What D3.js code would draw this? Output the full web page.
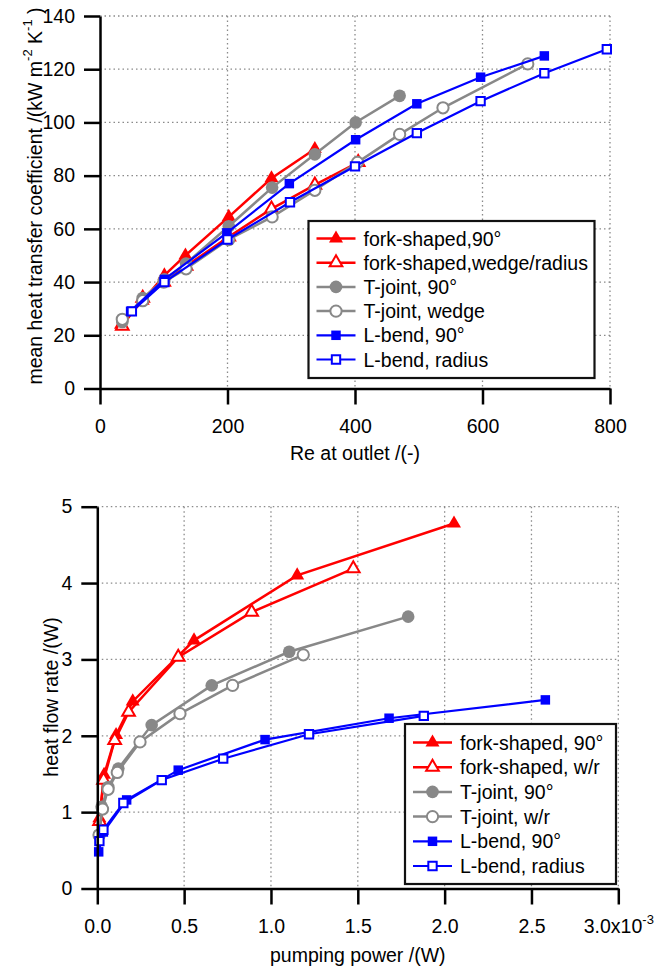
<!DOCTYPE html>
<html>
<head>
<meta charset="utf-8">
<script src="https://cdn.jsdelivr.net/npm/d3@7"></script>
<style>
  body { margin: 0; background: #fff; }
</style>
</head>
<body>
<div id="chart"></div>
<script>
var svgWidth = 658, svgHeight = 971;
var fontFamily = '"Liberation Sans", Arial, Helvetica, sans-serif';

// ---- top panel: Re at outlet vs mean heat transfer coefficient ----
var topLegend = ["fork-shaped,90°", "fork-shaped,wedge/radius", "T-joint, 90°", "T-joint, wedge", "L-bend, 90°", "L-bend, radius"];
var reFork90 = [33, 67, 101, 134, 202, 269, 337];
var htcFork90 = [24, 33, 42.5, 50, 64.5, 79, 90];
var reForkWedge = [35, 67, 100, 135, 202, 269, 337, 405];
var htcForkWedge = [23.5, 34, 40, 46, 57, 67.5, 76.5, 85];
var reT90 = [35, 67, 101, 135, 202, 270, 337, 401, 470];
var htcT90 = [25, 34, 41, 47, 61, 75.5, 88, 100, 110];
var reTWedge = [35, 67, 100, 135, 202, 270, 337, 404, 470, 538, 671];
var htcTWedge = [26, 33, 40, 45, 56, 64.5, 74.5, 85, 95.5, 105.5, 122];
var reL90 = [48, 101, 199, 297, 401, 497, 597, 697];
var htcL90 = [29, 41, 58.5, 77, 93.5, 107, 117, 125];
var reLRadius = [50, 101, 200, 298, 400, 497, 597, 697, 795];
var htcLRadius = [29, 40, 56, 70, 83.5, 96, 108, 118.5, 127.5];
var reTicks = [0, 200, 400, 600, 800];
var htcTicks = [0, 20, 40, 60, 80, 100, 120, 140];

// ---- bottom panel: pumping power (x10^-3 W) vs heat flow rate ----
var botLegend = ["fork-shaped, 90°", "fork-shaped, w/r", "T-joint, 90°", "T-joint, w/r", "L-bend, 90°", "L-bend, radius"];
var ppFork90 = [0.012, 0.039, 0.108, 0.204, 0.557, 1.151, 2.054];
var qFork90 = [0.92, 1.49, 2.01, 2.45, 3.25, 4.10, 4.78];
var ppForkWR = [0.013, 0.036, 0.100, 0.180, 0.466, 0.889, 1.474];
var qForkWR = [0.88, 1.42, 1.94, 2.31, 3.03, 3.62, 4.19];
var ppT90 = [0.012, 0.025, 0.063, 0.121, 0.313, 0.659, 1.105, 1.79];
var qT90 = [0.70, 1.07, 1.33, 1.57, 2.14, 2.66, 3.10, 3.56];
var ppTWR = [0.010, 0.030, 0.062, 0.115, 0.246, 0.476, 0.779, 1.186];
var qTWR = [0.70, 1.04, 1.30, 1.52, 1.92, 2.29, 2.66, 3.06];
var ppL90 = [0.008, 0.035, 0.169, 0.466, 0.966, 1.68, 2.58];
var qL90 = [0.48, 0.74, 1.16, 1.55, 1.95, 2.23, 2.47];
var ppLRadius = [0.012, 0.035, 0.150, 0.371, 0.725, 1.219, 1.88];
var qLRadius = [0.62, 0.77, 1.12, 1.42, 1.70, 2.02, 2.26];
var ppTicks = [0, 0.5, 1.0, 1.5, 2.0, 2.5, 3.0];
var ppTickLabels = ["0.0", "0.5", "1.0", "1.5", "2.0", "2.5", "3.0x10"];
var qTicks = [0, 1, 2, 3, 4, 5];

// styles, in legend order
var seriesStyle = [
  {color: "#ff0000", shape: d3.symbolTriangle, filled: true, size: 85, lw: 2.5},
  {color: "#ff0000", shape: d3.symbolTriangle, filled: false, size: 70, lw: 2.5},
  {color: "#888888", shape: d3.symbolCircle, filled: true, size: 125, lw: 2.5},
  {color: "#888888", shape: d3.symbolCircle, filled: false, size: 100, lw: 2.5},
  {color: "#0000ff", shape: d3.symbolSquare, filled: true, size: 90, lw: 2.2},
  {color: "#0000ff", shape: d3.symbolSquare, filled: false, size: 70, lw: 2.2}
];

function zipXY(xs, ys) {
  return xs.map(function (v, i) { return {x: v, y: ys[i]}; });
}

var svg = d3.select("#chart")
  .append("svg")
    .attr("width", svgWidth)
    .attr("height", svgHeight)
    .style("font-family", fontFamily);

function drawMarker(sel, st) {
  sel.attr("d", d3.symbol(st.shape, st.size))
    .attr("fill", st.filled ? st.color : "#fff")
    .attr("stroke", st.color)
    .attr("stroke-width", st.filled ? 0 : 2);
}

function drawPanel(p) {
  var x = d3.scaleLinear().domain(p.xDomain).range([p.left, p.right]);
  var y = d3.scaleLinear().domain(p.yDomain).range([p.bottom, p.top]);
  var g = svg.append("g");

  // dotted grid
  g.append("g").selectAll("line")
    .data(p.xTicks.filter(function (d) { return d > p.xDomain[0]; }))
    .join("line")
      .attr("x1", function (d) { return x(d); })
      .attr("x2", function (d) { return x(d); })
      .attr("y1", p.top).attr("y2", p.bottom)
      .attr("stroke", "#8a8a8a").attr("stroke-width", 1.3)
      .attr("stroke-dasharray", "1.5,3");
  g.append("g").selectAll("line")
    .data(p.yTicks.filter(function (d) { return d > p.yDomain[0]; }))
    .join("line")
      .attr("y1", function (d) { return y(d); })
      .attr("y2", function (d) { return y(d); })
      .attr("x1", p.left).attr("x2", p.right)
      .attr("stroke", "#8a8a8a").attr("stroke-width", 1.3)
      .attr("stroke-dasharray", "1.5,3");

  // series
  var line = d3.line().x(function (d) { return x(d.x); }).y(function (d) { return y(d.y); });
  p.series.forEach(function (s, i) {
    var st = seriesStyle[i];
    g.append("path").datum(s)
      .attr("d", line)
      .attr("fill", "none")
      .attr("stroke", st.color)
      .attr("stroke-width", st.lw);
    g.append("g").selectAll("path")
      .data(s)
      .join("path")
        .attr("transform", function (d) { return "translate(" + x(d.x) + "," + y(d.y) + ")"; })
        .call(drawMarker, st);
  });

  // legend
  var lg = g.append("g");
  lg.append("rect")
    .attr("x", p.legend.x).attr("y", p.legend.y)
    .attr("width", p.legend.w).attr("height", p.legend.h)
    .attr("fill", "#fff").attr("stroke", "#111").attr("stroke-width", 2.2);
  p.names.forEach(function (name, i) {
    var st = seriesStyle[i];
    var ly = p.legend.y + p.legend.first + i * p.legend.step;
    lg.append("line")
      .attr("x1", p.legend.x + 8).attr("x2", p.legend.x + 47)
      .attr("y1", ly).attr("y2", ly)
      .attr("stroke", st.color).attr("stroke-width", st.lw);
    lg.append("path")
      .attr("transform", "translate(" + (p.legend.x + 27.5) + "," + ly + ")")
      .call(drawMarker, st);
    lg.append("text")
      .attr("x", p.legend.x + 55).attr("y", ly)
      .attr("dy", "0.36em")
      .attr("font-size", 19.5)
      .text(name);
  });

  // axes
  var xAxis = d3.axisBottom(x).tickValues(p.xTicks).tickSize(16).tickSizeOuter(0)
    .tickPadding(15).tickFormat(p.xFormat);
  var yAxis = d3.axisLeft(y).tickValues(p.yTicks).tickSize(16).tickSizeOuter(0)
    .tickPadding(9).tickFormat(d3.format("d"));
  var gx = g.append("g")
    .attr("transform", "translate(0," + p.bottom + ")")
    .call(xAxis);
  var gy = g.append("g")
    .attr("transform", "translate(" + p.left + ",0)")
    .call(yAxis);
  [gx, gy].forEach(function (a) {
    a.attr("font-size", 19.5).attr("font-family", fontFamily);
    a.selectAll("path, line").attr("stroke", "#000").attr("stroke-width", 2.5);
    a.selectAll("text").attr("fill", "#000");
  });

  // axis titles
  g.append("text")
    .attr("x", (p.left + p.right) / 2).attr("y", p.xTitleY)
    .attr("text-anchor", "middle").attr("font-size", 19.5)
    .text(p.xTitle);
  var yt = g.append("text")
    .attr("transform", "translate(" + p.yTitleX + "," + p.yTitleY + ") rotate(-90)")
    .attr("text-anchor", "middle").attr("font-size", 19.5);
  p.yTitle.forEach(function (part) {
    var t = yt.append("tspan").text(part.t);
    if (part.sup) t.attr("font-size", 13).attr("dy", "-0.75em");
    if (part.down) t.attr("dy", "0.5em");
  });
  return gx;
}

// top panel
drawPanel({
  left: 100, right: 610, top: 16, bottom: 388.5,
  xDomain: [0, 800], yDomain: [0, 140],
  xTicks: reTicks, yTicks: htcTicks,
  xFormat: d3.format("d"),
  series: [zipXY(reFork90, htcFork90), zipXY(reForkWedge, htcForkWedge), zipXY(reT90, htcT90),
           zipXY(reTWedge, htcTWedge), zipXY(reL90, htcL90), zipXY(reLRadius, htcLRadius)],
  names: topLegend,
  legend: {x: 308.5, y: 221, w: 286, h: 157, first: 17.5, step: 24.2},
  xTitle: "Re at outlet /(-)", xTitleY: 460,
  yTitleX: 42, yTitleY: 196,
  yTitle: [{t: "mean heat transfer coefficient /(kW m"}, {t: "-2", sup: true},
           {t: " K", down: true}, {t: "-1", sup: true}, {t: " )", down: true}]
});

// bottom panel
var gxBottom = drawPanel({
  left: 97.3, right: 618.3, top: 506.7, bottom: 888.5,
  xDomain: [0, 3], yDomain: [0, 5],
  xTicks: ppTicks, yTicks: qTicks,
  xFormat: function (d, i) { return ppTickLabels[i]; },
  series: [zipXY(ppFork90, qFork90), zipXY(ppForkWR, qForkWR), zipXY(ppT90, qT90),
           zipXY(ppTWR, qTWR), zipXY(ppL90, qL90), zipXY(ppLRadius, qLRadius)],
  names: botLegend,
  legend: {x: 405, y: 724, w: 211, h: 160, first: 18.5, step: 24.7},
  xTitle: "pumping power /(W)", xTitleY: 962,
  yTitleX: 58, yTitleY: 697,
  yTitle: [{t: "heat flow rate /(W)"}]
});

// exponent on the last pumping-power tick
gxBottom.selectAll(".tick text").filter(function (d, i) { return i === ppTicks.length - 1; })
  .append("tspan")
    .attr("font-size", 13)
    .attr("dy", "-0.7em")
    .text("-3");
</script>
</body>
</html>
